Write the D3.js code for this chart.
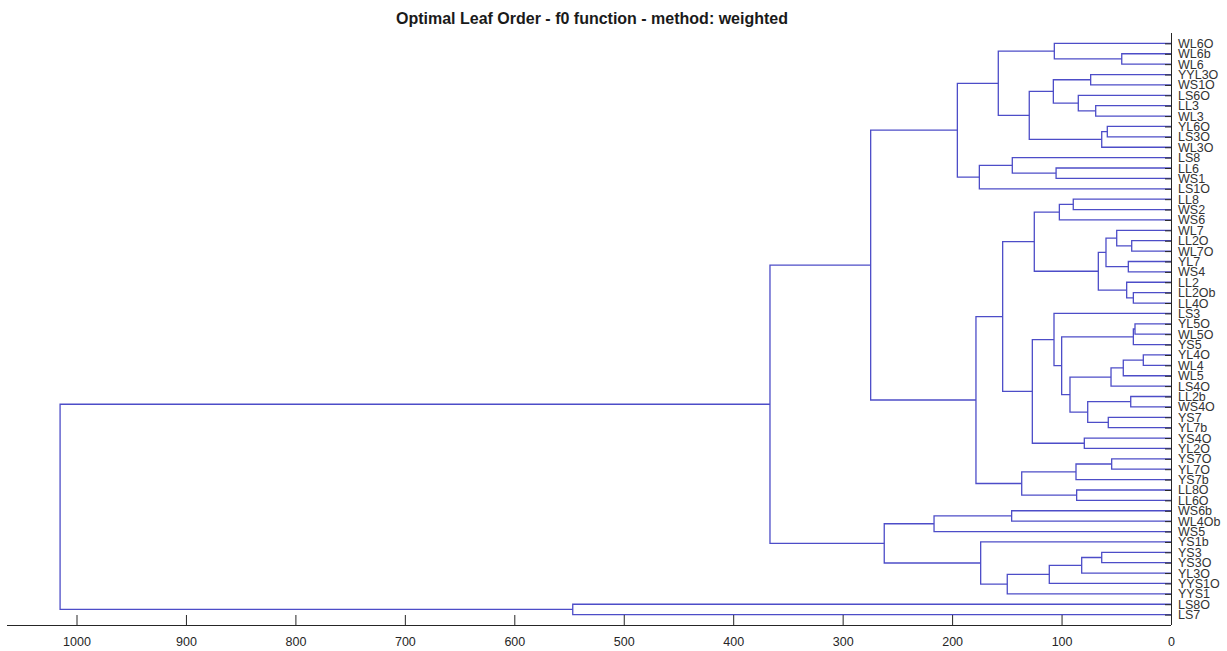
<!DOCTYPE html>
<html>
<head>
<meta charset="utf-8">
<script src="https://cdn.jsdelivr.net/npm/d3@7"></script>
<style>
  html, body { margin: 0; padding: 0; background: #fff; }
  svg { display: block; font-family: Arial, "Liberation Sans", Helvetica, sans-serif; }
</style>
</head>
<body>
<svg id="chart" width="1227" height="651"></svg>
<script>
// Leaf labels, listed from the top of the tree to the bottom
const leaves = [
  "WL6O", "WL6b", "WL6", "YYL3O", "WS1O", "LS6O", "LL3", "WL3", "YL6O", "LS3O",
  "WL3O", "LS8", "LL6", "WS1", "LS1O", "LL8", "WS2", "WS6", "WL7", "LL2O",
  "WL7O", "YL7", "WS4", "LL2", "LL2Ob", "LL4O", "LS3", "YL5O", "WL5O", "YS5",
  "YL4O", "WL4", "WL5", "LS4O", "LL2b", "WS4O", "YS7", "YL7b", "YS4O", "YL2O",
  "YS7O", "YL7O", "YS7b", "LL8O", "LL6O", "WS6b", "WL4Ob", "WS5", "YS1b", "YS3",
  "YS3O", "YL3O", "YYS1O", "YYS1", "LS8O", "LS7"
];

// Merge steps: [cluster id, first child, second child]
const mergeIds = [
  ["n1", "WL6b", "WL6"], ["n2", "WL6O", "n1"], ["n3", "YYL3O", "WS1O"],
  ["n4", "LL3", "WL3"], ["n5", "LS6O", "n4"], ["n6", "n3", "n5"],
  ["n7", "YL6O", "LS3O"], ["n8", "n7", "WL3O"], ["n9", "n6", "n8"],
  ["n10", "n2", "n9"], ["n11", "LL6", "WS1"], ["n12", "LS8", "n11"],
  ["n13", "n12", "LS1O"], ["n14", "n10", "n13"],
  ["n15", "LL8", "WS2"], ["n16", "n15", "WS6"], ["n17", "LL2O", "WL7O"],
  ["n18", "WL7", "n17"], ["n19", "YL7", "WS4"], ["n20", "n18", "n19"],
  ["n21", "LL2Ob", "LL4O"], ["n22", "LL2", "n21"], ["n23", "n20", "n22"],
  ["n24", "n16", "n23"], ["n25", "YL5O", "WL5O"], ["n26", "n25", "YS5"],
  ["n27", "YL4O", "WL4"], ["n28", "n27", "WL5"], ["n29", "n28", "LS4O"],
  ["n30", "LL2b", "WS4O"], ["n31", "YS7", "YL7b"], ["n32", "n30", "n31"],
  ["n33", "n29", "n32"], ["n34", "n26", "n33"], ["n35", "LS3", "n34"],
  ["n36", "YS4O", "YL2O"], ["n37", "n35", "n36"], ["n38", "n24", "n37"],
  ["n39", "YS7O", "YL7O"], ["n40", "n39", "YS7b"], ["n41", "LL8O", "LL6O"],
  ["n42", "n40", "n41"], ["n43", "n38", "n42"], ["n44", "n14", "n43"],
  ["n45", "WS6b", "WL4Ob"], ["n46", "n45", "WS5"], ["n47", "YS3", "YS3O"],
  ["n48", "n47", "YL3O"], ["n49", "n48", "YYS1O"], ["n50", "n49", "YYS1"],
  ["n51", "YS1b", "n50"], ["n52", "n46", "n51"], ["n53", "n44", "n52"],
  ["n54", "LS8O", "LS7"], ["n55", "n53", "n54"]
];

// Linkage distance of each merge step, same order as mergeIds
const mergeHeights = [
  45.0, 106.6, 73.4, 68.8, 84.7, 107.5, 58.2, 63.3, 129.5, 157.8,
  105.0, 145.0, 175.1, 195.2,
  89.3, 102.0, 35.9, 49.6, 39.0, 59.4, 34.4, 40.5, 66.4, 124.9,
  32.9, 34.4, 25.3, 43.6, 54.8, 36.8, 57.3, 76.1, 92.3, 99.9,
  106.9, 79.2, 126.7, 153.8, 54.2, 86.8, 86.2, 136.4, 178.2, 274.4,
  145.6, 216.5, 63.3, 81.6, 111.2, 149.6, 173.9, 262.0, 366.4, 546.6,
  1015.0
];

// Distance axis tick values
const xTicks = [0, 100, 200, 300, 400, 500, 600, 700, 800, 900, 1000];

const titleText = "Optimal Leaf Order - f0 function - method: weighted";

const svg = d3.select("#chart");
const lineColor = "#4d4dc8";
const axisColor = "#262626";

// Plot frame
const plot = { left: 7, right: 1171, top: 33, bottom: 625 };

// Distance runs right-to-left; leaves sit on the right edge
const x = d3.scaleLinear().domain([0, 1063.5]).range([plot.right, plot.left]);
// Leaf slots 1..n counted from the bottom, with one empty slot of padding on each end
const n = leaves.length;
const y = d3.scaleLinear().domain([0, n + 1]).range([plot.bottom, plot.top]);

// Node positions
const pos = new Map();
leaves.forEach((name, i) => {
  pos.set(name, { h: 0, s: n - i });
});
const links = mergeIds.map(([id, a, b], i) => {
  const pa = pos.get(a), pb = pos.get(b);
  const h = mergeHeights[i];
  pos.set(id, { h, s: (pa.s + pb.s) / 2 });
  return { a: pa, b: pb, h };
});

// Title
svg.append("text")
  .attr("x", (plot.left + plot.right) / 2 + 3)
  .attr("y", 24)
  .attr("text-anchor", "middle")
  .attr("font-size", "16px")
  .attr("font-weight", "bold")
  .attr("fill", "#1a1a1a")
  .text(titleText);

// Dendrogram links
const lineGen = d3.line();
svg.append("g")
  .selectAll("path")
  .data(links)
  .join("path")
  .attr("d", d => lineGen([
    [x(d.a.h), y(d.a.s)],
    [x(d.h), y(d.a.s)],
    [x(d.h), y(d.b.s)],
    [x(d.b.h), y(d.b.s)]
  ]))
  .attr("fill", "none")
  .attr("stroke", lineColor)
  .attr("stroke-width", 1.3);

// Bottom distance axis (ticks pointing into the plot)
const xAxis = d3.axisBottom(x)
  .tickValues(xTicks)
  .tickFormat(d3.format("d"))
  .tickSizeInner(-10)
  .tickSizeOuter(0)
  .tickPadding(12);
const gx = svg.append("g")
  .attr("transform", `translate(0,${plot.bottom})`)
  .call(xAxis);
gx.select(".domain").attr("stroke", axisColor).attr("stroke-width", 1)
  .attr("d", `M${plot.left},0.5H${plot.right}`);
gx.selectAll(".tick line").attr("stroke", axisColor);
gx.selectAll(".tick text")
  .attr("fill", "#262626")
  .attr("font-size", "12.5px")
  .attr("font-family", "Arial, 'Liberation Sans', sans-serif");

// Right leaf axis with labels
const leafSlots = leaves.map((_, i) => n - i);
const yAxis = d3.axisRight(y)
  .tickValues(leafSlots)
  .tickFormat(s => leaves[n - s])
  .tickSizeInner(-6)
  .tickSizeOuter(0)
  .tickPadding(7);
const gy = svg.append("g")
  .attr("transform", `translate(${plot.right},0)`)
  .call(yAxis);
gy.select(".domain").attr("stroke", axisColor).attr("stroke-width", 1)
  .attr("d", `M0.5,${plot.top}V${plot.bottom}`);
gy.selectAll(".tick line").attr("stroke", axisColor);
gy.selectAll(".tick text")
  .attr("fill", "#333")
  .attr("font-size", "12.5px")
  .attr("font-family", "Arial, 'Liberation Sans', sans-serif");
</script>
</body>
</html>
